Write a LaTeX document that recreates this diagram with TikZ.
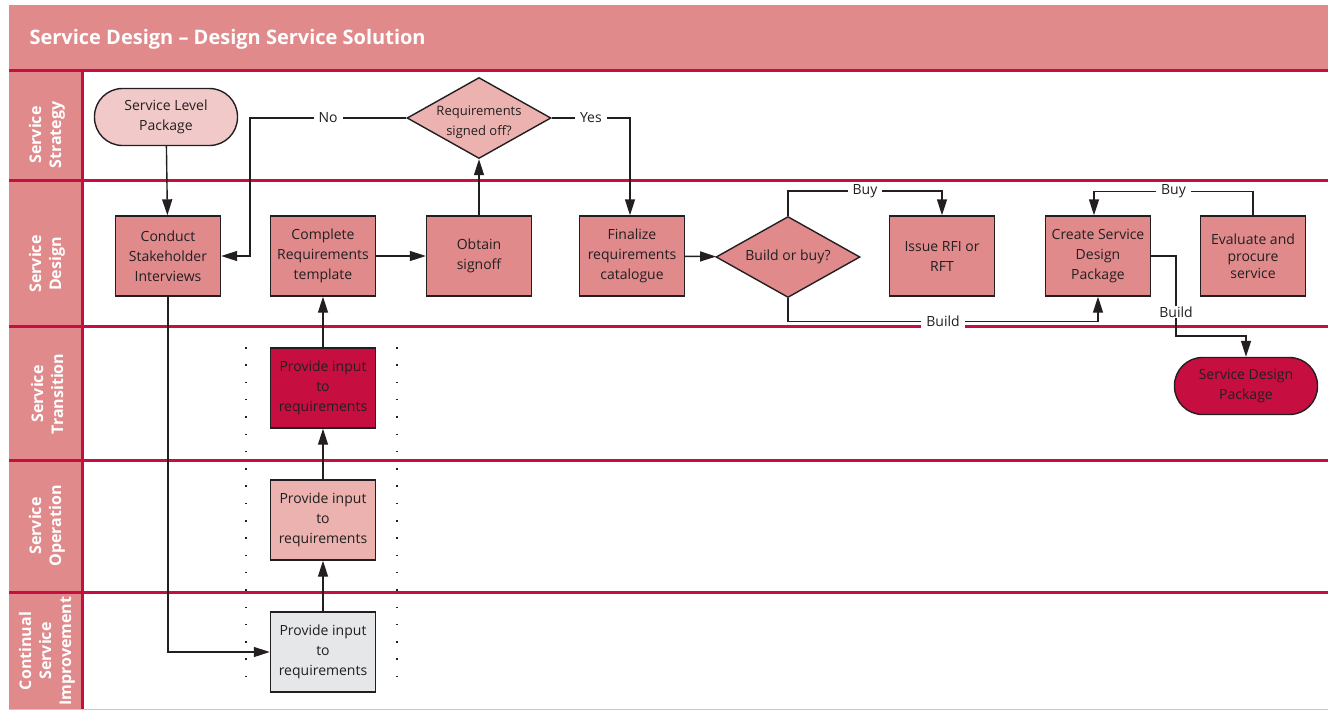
\documentclass[tikz,border=0pt]{standalone}
\usepackage{fontspec}
\setmainfont{Open Sans}
\usetikzlibrary{calc,arrows.meta,positioning,shapes.geometric}
\definecolor{laneRose}{RGB}{224,138,140}
\definecolor{laneCrimson}{RGB}{198,14,64}
\definecolor{boxBlush}{RGB}{241,201,201}
\definecolor{boxPink}{RGB}{235,178,175}
\definecolor{boxGrey}{RGB}{230,231,232}
\definecolor{inkDark}{RGB}{35,31,32}
\begin{document}
\begin{tikzpicture}[x=1pt,y=-1pt,font=\fontsize{14}{20}\selectfont,
  procbox/.style={draw=inkDark,line width=1.4pt,fill=laneRose,text=inkDark,minimum width=105pt,minimum height=80pt,inner sep=1pt,align=center},
  decision/.style={diamond,draw=inkDark,line width=1.4pt,text=inkDark,inner sep=-12pt,minimum width=144pt,minimum height=81pt,align=center},
  terminal/.style={draw=inkDark,line width=1.4pt,rounded corners=28pt,text=inkDark,minimum width=143pt,minimum height=57pt,inner sep=1pt,align=center},
  flow/.style={draw=inkDark,line width=1.4pt,-{Triangle[length=16pt,width=10pt]}},
  branch/.style={fill=white,text=inkDark,inner xsep=5pt,inner ysep=1pt},
  lanetitle/.style={rotate=90,text=white,align=center,font=\bfseries\fontsize{16}{20}\selectfont}]
  \useasboundingbox (0,0) rectangle (1328,710);
  % header and lane column
  \fill[laneRose] (9,5) rectangle (1328,70);
  \fill[laneRose] (9,70) rectangle (82,709);
  \node[anchor=west,text=white,font=\bfseries\fontsize{20}{24}\selectfont] (title) at (26,39) {Service Design \textendash{} Design Service Solution};
  \foreach \y in {70,180,326,460,592}
    \draw[laneCrimson,line width=3pt] (9,\y) -- (1328,\y);
  \draw[laneCrimson,line width=3pt] (82,70) -- (82,709);
  \draw[laneRose!60,line width=1pt] (9,709) -- (1328,709);
  \node[lanetitle] (laneStrategy) at (47,135) {Service\\Strategy};
  \node[lanetitle] (laneDesign) at (47,264) {Service\\Design};
  \node[lanetitle] (laneTransition) at (47,394) {Service\\Transition};
  \node[lanetitle] (laneOperation) at (47,526) {Service\\Operation};
  \node[lanetitle] (laneImprovement) at (47,651) {Continual\\Service\\Improvement};
  % dotted guides
  \draw[inkDark,line width=1.3pt,dash pattern=on 1.5pt off 15.8pt] (246,347) -- (246,685);
  \draw[inkDark,line width=1.3pt,dash pattern=on 1.5pt off 15.8pt] (397,347) -- (397,685);
  % steps
  \node[terminal,fill=boxBlush] (slp) at (166,117) {Service Level\\Package};
  \node[procbox] (interviews) at (168,256) {Conduct\\Stakeholder\\Interviews};
  \node[procbox] (template) at (323,256) {Complete\\Requirements\\template};
  \node[procbox] (signoff) at (479,256) {Obtain\\signoff};
  \node[decision,fill=boxPink,font=\fontsize{13}{20}\selectfont] (signoffQ) at (479,118) {\rule{0pt}{18pt}Requirements\\signed off?};
  \node[procbox] (finalize) at (632,256) {Finalize\\requirements\\catalogue};
  \node[decision,fill=laneRose] (buildQ) at (788,257) {Build or buy?};
  \node[procbox] (issue) at (942,256) {Issue RFI or\\RFT};
  \node[procbox] (createSdp) at (1098,256) {Create Service\\Design\\Package};
  \node[procbox,font=\fontsize{14}{17}\selectfont] (evaluate) at (1253,256) {Evaluate and\\procure\\service};
  \node[terminal,fill=laneCrimson] (sdpEnd) at (1246,386) {Service Design\\Package};
  \node[procbox,fill=laneCrimson] (transInput) at (323,388) {Provide input\\to\\requirements};
  \node[procbox,fill=boxPink] (opsInput) at (323,520) {Provide input\\to\\requirements};
  \node[procbox,fill=boxGrey] (csiInput) at (323,652) {Provide input\\to\\requirements};
  % bends
  \coordinate (noBend) at (250,118);
  \coordinate (sdpDrop) at (1176,336);
  % connectors
  \draw[flow] (slp) -- (interviews);
  \draw[flow] (interviews.south) |- (csiInput.west);
  \draw[flow] (signoffQ.west) -- node[branch] (lblNo) {No} (noBend) |- (interviews.east);
  \draw[flow] (template) -- (signoff);
  \draw[flow] (signoff) -- (signoffQ);
  \draw[flow] (signoffQ.east) -| node[branch,pos=0.25] (lblYes) {Yes} ([xshift=-2pt]finalize.north);
  \draw[flow] (finalize) -- (buildQ);
  \draw[flow] (buildQ.north) -- ++(0,-25) -| node[branch,pos=0.25] (lblBuy) {Buy} (issue.north);
  \draw[flow] (buildQ.south) -- ++(0,23) -| node[branch,pos=0.25] (lblBuild) {Build} (createSdp.south);
  \draw[flow] (evaluate.north) -- ++(0,-24) -| node[branch,pos=0.25] (lblBuyBack) {Buy} ([xshift=-4pt]createSdp.north);
  \draw[flow] (createSdp.east) -| node[branch,pos=0.85] (lblBuildOut) {Build} (sdpDrop) -| (sdpEnd.north);
  \draw[flow] (transInput) -- (template);
  \draw[flow] (opsInput) -- (transInput);
  \draw[flow] (csiInput) -- (opsInput);
\end{tikzpicture}
\end{document}
